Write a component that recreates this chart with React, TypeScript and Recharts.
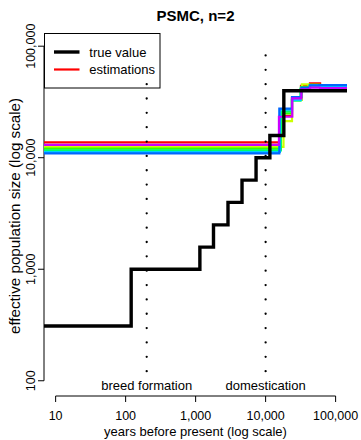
import { LineChart, Line, XAxis, YAxis, ReferenceLine } from "recharts";

const FONT = '"Liberation Sans", Arial, Helvetica, sans-serif';

// axis ranges (log scale) and tick values
const xMin = 6.82;
const xMax = 145400;
const yMin = 73;
const yMax = 131300;
const xTicks = [10, 100, 1000, 10000, 100000];
const yTicks = [100, 1000, 10000, 100000];

// simulated history: epoch start (years ago) and population size
const trueTimes = [6.82, 120, 1150, 1800, 2900, 4600, 7300, 11500, 18200, 145400];
const trueSizes = [310, 1000, 1580, 2500, 3980, 6300, 10000, 15800, 39800, 39800];

// PSMC replicates, one row per run
const estColors = ["#FF0000", "#CCFF00", "#33FF00", "#00FF66", "#00CCFF", "#0066FF", "#CC00FF"];
const estTimes = [
  [6.82, 16000, 23800, 32000, 43000, 60000, 145400],
  [6.82, 18000, 23800, 33000, 41000, 58000, 145400],
  [6.82, 16500, 23800, 32000, 43000, 60000, 145400],
  [6.82, 16500, 23800, 31500, 42000, 62000, 145400],
  [6.82, 16000, 23800, 32000, 43000, 60000, 145400],
  [6.82, 15700, 23800, 32500, 43000, 58000, 145400],
  [6.82, 15500, 24000, 32400, 43000, 60000, 145400],
];
const estSizes = [
  [13700, 23700, 34500, 44000, 46500, 44500, 44500],
  [12500, 21300, 33000, 45500, 45000, 43500, 43500],
  [12050, 25000, 33500, 43000, 45000, 43500, 43500],
  [11650, 26000, 32500, 41500, 44000, 43000, 43000],
  [11250, 27000, 33000, 42000, 44500, 43500, 43500],
  [10950, 27500, 35000, 42500, 44500, 44800, 44800],
  [13050, 23300, 34100, 41000, 42500, 42000, 42000],
];

// historical events marked with dotted lines
const eventNames = ["breed formation", "domestication"];
const eventYears = [200, 10000];
const eventTops = [46000, 84000];
const eventBottom = 122;

const legendNames = ["true value", "estimations"];
const legendColors = ["#000000", "#FF0000"];

const trueData = trueTimes.map((t, i) => ({ t, n: trueSizes[i] }));
const estData = estTimes.map((times, k) => times.map((t, i) => ({ t, n: estSizes[k][i] })));

const fmt = (v: number) => v.toLocaleString("en-US");

const YTick = (props: any) => {
  const { x, y, payload } = props;
  const bx = x - 1;
  return (
    <text
      x={bx}
      y={y}
      transform={`rotate(-90, ${bx}, ${y})`}
      textAnchor="middle"
      fontSize={12.5}
      fill="#000"
      fontFamily={FONT}
    >
      {fmt(payload.value)}
    </text>
  );
};

const eventLabel = (name: string) => (props: any) => {
  const vb = props.viewBox;
  if (!vb) return null;
  return (
    <text
      x={vb.x}
      y={vb.y + vb.height + 18.5}
      textAnchor="middle"
      fontSize={13}
      fill="#000"
      fontFamily={FONT}
    >
      {name}
    </text>
  );
};

export default function App() {
  return (
    <div
      style={{
        position: "absolute",
        left: 0,
        top: 0,
        width: 361,
        height: 440,
        background: "#fff",
        fontFamily: FONT,
      }}
    >
      {/* legend sits under the plot so the dotted line can pass over it */}
      <svg width={361} height={440} style={{ position: "absolute", left: 0, top: 0 }}>
        <rect x={44.5} y={33.5} width={115.5} height={54.5} fill="#fff" stroke="#000" strokeWidth={1} />
        {legendNames.map((name, i) => (
          <g key={name}>
            <line
              x1={54}
              x2={79.5}
              y1={52 + i * 17.5}
              y2={52 + i * 17.5}
              stroke={legendColors[i]}
              strokeWidth={i === 0 ? 3.4 : 2.2}
            />
            <text x={89.3} y={56.8 + i * 17.5} fontSize={13} fill="#000" fontFamily={FONT}>
              {name}
            </text>
          </g>
        ))}
      </svg>

      <div style={{ position: "absolute", left: 0, top: 0 }}>
        <LineChart
          width={361}
          height={440}
          margin={{ top: 33, right: 14, bottom: 0, left: 0 }}
        >
          <XAxis
            dataKey="t"
            type="number"
            scale="log"
            domain={[xMin, xMax]}
            allowDataOverflow
            ticks={xTicks}
            tickFormatter={fmt}
            height={44}
            axisLine={false}
            tickLine={{ stroke: "#000" }}
            tickSize={6}
            tickMargin={9}
            tick={{ fontSize: 12.5, fill: "#000", fontFamily: FONT }}
            interval={0}
          />
          <YAxis
            dataKey="n"
            type="number"
            scale="log"
            domain={[yMin, yMax]}
            allowDataOverflow
            ticks={yTicks}
            width={44}
            axisLine={false}
            tickLine={{ stroke: "#000" }}
            tickSize={6}
            tick={YTick}
            interval={0}
          />

          {/* axis lines span only the labelled ticks */}
          <ReferenceLine
            segment={[{ x: xMin, y: yTicks[0] }, { x: xMin, y: yTicks[yTicks.length - 1] }]}
            stroke="#000"
            strokeWidth={1}
            ifOverflow="visible"
          />
          <ReferenceLine
            segment={[{ x: xTicks[0], y: yMin }, { x: xTicks[xTicks.length - 1], y: yMin }]}
            stroke="#000"
            strokeWidth={1}
            ifOverflow="visible"
          />

          {estData.map((d, k) => (
            <Line
              key={estColors[k]}
              data={d}
              dataKey="n"
              type="stepAfter"
              stroke={estColors[k]}
              strokeWidth={2.2}
              dot={false}
              activeDot={false}
              isAnimationActive={false}
            />
          ))}
          <Line
            data={trueData}
            dataKey="n"
            type="stepAfter"
            stroke="#000"
            strokeWidth={3.4}
            dot={false}
            activeDot={false}
            isAnimationActive={false}
          />

          {eventYears.map((yr, i) => (
            <ReferenceLine
              key={eventNames[i]}
              segment={[{ x: yr, y: eventBottom }, { x: yr, y: eventTops[i] }]}
              stroke="#000"
              strokeWidth={2.3}
              strokeLinecap="round"
              strokeDasharray="0 14.35"
              ifOverflow="visible"
              label={eventLabel(eventNames[i])}
            />
          ))}
        </LineChart>
      </div>

      <svg
        width={361}
        height={440}
        style={{ position: "absolute", left: 0, top: 0, pointerEvents: "none" }}
      >
        <text x={195.5} y={20.5} textAnchor="middle" fontSize={15} fontWeight="bold" fontFamily={FONT}>
          PSMC, n=2
        </text>
        <text x={195.5} y={436} textAnchor="middle" fontSize={13} fontFamily={FONT}>
          years before present (log scale)
        </text>
        <text
          x={20}
          y={216}
          transform="rotate(-90, 20, 216)"
          textAnchor="middle"
          fontSize={15.2}
          fontFamily={FONT}
        >
          effective population size (log scale)
        </text>
      </svg>
    </div>
  );
}
